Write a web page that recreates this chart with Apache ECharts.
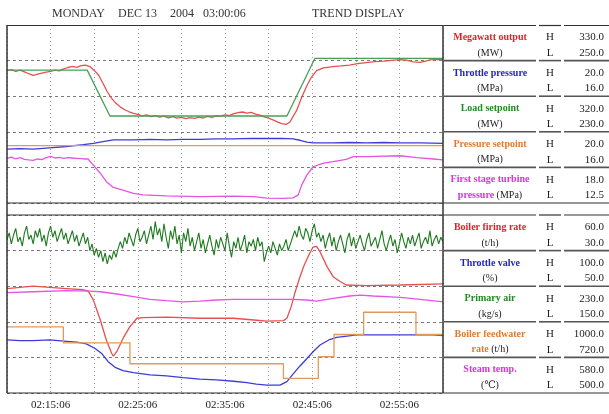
<!DOCTYPE html>
<html><head><meta charset="utf-8">
<script src="https://cdn.jsdelivr.net/npm/echarts@6/dist/echarts.min.js"></script>
<style>html,body{margin:0;padding:0;background:#fff}#c{width:609px;height:414px}</style>
</head><body><div id="c"></div>
<script>
// ---------- axis / labels ----------
const xMin = 0, xMax = 50, xStep = 5;            // minutes after 02:10:06
const timeLabels = ['02:15:06', '02:25:06', '02:35:06', '02:45:06', '02:55:06'];
const timeLabelMinutes = [5, 15, 25, 35, 45];
const titleParts = ['MONDAY', 'DEC 13', '2004', '03:00:06', 'TREND DISPLAY'];

// ---------- upper panel ----------
const upperNames = ['Megawatt output', 'Throttle pressure', 'Load setpoint', 'Pressure setpoint', 'First stage turbine'];
const upperUnitColored = ['', '', '', '', 'pressure '];
const upperUnits = ['(MW)', '(MPa)', '(MW)', '(MPa)', '(MPa)'];
const upperHigh = [330, 20, 320, 20, 18];
const upperLow = [250, 16, 230, 16, 12.5];

const megawattOutput = [[0,309.5],[0.5,309.9],[1,309.2],[1.5,309.7],[2,308.9],[2.5,308.1],[3,307.4],[3.5,307.9],[4,308.4],[4.5,308.8],[5,309.2],[5.5,309.7],[6,309.4],[6.5,310.3],[7,310.9],[7.5,311.4],[8,311.0],[8.5,311.7],[9,312.0],[9.5,311.3],[10,309.6],[10.5,307.5],[11,303.8],[11.5,300.0],[12,297.0],[12.5,294.8],[13,293.1],[13.5,291.9],[14,291.0],[14.5,290.3],[15,289.8],[15.5,289.2],[16,289.6],[16.5,288.8],[17,289.3],[17.5,288.6],[18,289.0],[18.5,288.3],[19,288.8],[19.5,288.1],[20,288.5],[20.5,287.9],[21,288.4],[21.5,288.0],[22,288.6],[22.5,288.2],[23,288.9],[23.5,288.5],[24,289.2],[24.5,289.0],[25,289.6],[25.5,289.3],[26,290.2],[26.5,290.6],[27,290.9],[27.5,290.4],[28,290.7],[28.5,289.9],[29,289.5],[29.5,288.7],[30,288.1],[30.5,287.4],[31,286.5],[31.5,285.7],[32,285.3],[32.45,286.4],[33.2,291.5],[33.8,297.5],[34.4,302.8],[34.9,306.5],[35.5,309.5],[36.3,310.7],[37.4,311.3],[38.3,311.6],[39.3,312.0],[40.2,312.6],[41.2,313.1],[42.2,313.5],[43.2,313.8],[44.1,314.1],[45.1,314.4],[45.8,314.2],[46.6,313.4],[47.4,313.2],[48,313.8],[48.5,314.3],[49.2,314.4],[50,314.5]];
const throttlePressure = [[0,17.21],[1.5,17.22],[3,17.21],[4.9,17.24],[6.8,17.27],[8.75,17.31],[9.9,17.34],[11,17.38],[12.2,17.42],[14.5,17.42],[16.4,17.43],[18.3,17.42],[20.2,17.43],[22.1,17.43],[24,17.44],[26,17.44],[28,17.45],[29.8,17.45],[31.5,17.45],[32.8,17.44],[33.6,17.41],[34.4,17.37],[35.1,17.35],[37.4,17.35],[39.3,17.36],[41.2,17.35],[43.2,17.36],[45.1,17.35],[47.5,17.35],[50,17.34]];
const loadSetpoint = [[0,297.2],[9.2,297.2],[11.8,274.0],[32.1,274.0],[35.3,303.1],[50,303.1]];
const pressureSetpoint = [[0,17.29],[10,17.29],[20,17.29],[30,17.29],[40,17.29],[50,17.29]];
const firstStagePressure = [[0,13.88],[0.5,13.92],[1,13.86],[1.5,13.90],[2,13.85],[2.5,13.83],[3,13.82],[3.5,13.86],[4,13.84],[4.5,13.90],[5,13.94],[5.5,13.89],[6,13.91],[6.5,13.88],[7,13.90],[7.5,13.89],[8,13.88],[8.5,13.87],[9,13.86],[9.3,13.86],[9.9,13.67],[10.7,13.42],[11.4,13.16],[12.2,12.98],[13.0,12.92],[14.5,12.80],[15.6,12.75],[18.3,12.72],[22.1,12.70],[26.0,12.71],[28.3,12.70],[29.8,12.65],[31.7,12.64],[32.8,12.66],[33.4,12.75],[33.8,13.06],[34.4,13.37],[35.1,13.62],[36.3,13.73],[37.4,13.78],[38.9,13.85],[39.7,13.93],[41.2,13.93],[45.1,13.96],[47.0,13.90],[48.9,13.86],[50,13.83]];

// ---------- lower panel ----------
const lowerNames = ['Boiler firing rate', 'Throttle valve', 'Primary air', 'Boiler feedwater', 'Steam temp.'];
const lowerUnitColored = ['', '', '', 'rate ', ''];
const lowerUnits = ['(t/h)', '(%)', '(kg/s)', '(t/h)', '(\u2103)'];
const lowerHigh = [60, 100, 230, 1000, 580];
const lowerLow = [30, 50, 150, 720, 500];

const boilerFiringRate = [[0,47.6],[1.5,47.8],[3,48.0],[4.9,47.8],[6.8,47.6],[8.75,47.4],[9.3,47.2],[9.9,45.7],[10.7,42.3],[11.4,38.9],[12.0,36.7],[12.2,36.2],[12.6,37.0],[13.3,39.2],[14.1,41.2],[14.9,42.6],[15.6,42.7],[18.3,42.8],[22.1,42.6],[26.0,42.6],[28.3,42.3],[29.8,42.1],[31.7,42.2],[32.1,42.6],[32.6,44.6],[33.0,46.8],[33.6,49.6],[34.1,51.6],[34.7,53.5],[35.1,54.6],[35.5,54.7],[35.9,53.8],[36.7,51.3],[37.4,49.6],[38.2,48.8],[38.9,48.2],[41.2,48.1],[45.1,48.2],[50,48.4]];
const throttleValve = [[0,64.9],[1.5,64.7],[3,64.7],[4.9,64.9],[6.5,64.6],[8,64.3],[9.1,63.8],[10.1,62.5],[10.9,61.0],[11.6,58.8],[12.4,57.2],[13.3,56.3],[14.5,55.7],[16.4,55.1],[18.3,54.8],[20.2,54.3],[22.1,53.9],[24,53.7],[26,53.3],[27.5,52.9],[28.6,52.5],[29.8,52.2],[31.3,52.2],[32.1,53.2],[32.8,55.3],[33.6,57.6],[34.4,59.7],[35.1,61.6],[35.9,63.5],[36.9,64.9],[37.8,65.6],[39,66.0],[40.1,66.3],[41.2,66.3],[45.1,66.3],[48.9,66.3],[50,66.1]];
const primaryAirStep = 0.25;
const primaryAir = [219,222,217,221,224,218,220,216,222,225,219,221,217,223,220,224,218,221,216,222,225,220,223,218,221,224,219,222,217,220,223,218,221,216,219,222,217,220,214,
217,212,215,
211,214,209,213,208,212,210,214,211,215,
218,215,220,217,222,219,216,221,224,218,220,223,217,221,225,219,
227,221,224,218,226,220,215,223,219,225,217,221,213,222,218,224,
216,220,214,218,222,215,219,213,217,221,216,212,219,215,220,217,214,222,216,211,218,215,220,214,217,221,213,218,216,219,214,220,216,218,
209,213,
216,213,218,215,212,217,214,216,219,214,217,220,
223,220,225,221,219,224,222,218,223,226,220,222,
218,221,215,219,222,216,220,214,218,221,217,213,219,222,216,220,215,218,221,217,214,219,222,216,218,220,215,219,223,217,214,218,221,216,219,213,217,222,218,215,220,217,221,216,219,222,215,218,220,217,223,216,219,221,217,220,218];
const feedwaterRate = [[0,824],[6.46,799],[14.1,766],[31.7,743],[35.7,777],[37.5,812],[40.9,847],[46.9,812],[50,812]];
const steamTemp = [[0,545.1],[3,545.5],[6.8,546.0],[9.5,545.8],[10.7,545.5],[12.6,544.5],[14.5,543.3],[16.4,542.1],[18.3,541.5],[20.2,541.0],[22.1,541.3],[24,541.8],[26,542.1],[29.8,542.1],[32.8,542.1],[34.4,541.8],[35.5,541.3],[37.4,542.5],[39.3,543.6],[40.5,544.0],[42,543.6],[45.1,543.0],[47.4,542.1],[50,541.0]];

// ---------- styling ----------
const upperLineColors = ['#e6504f', '#3c3cd6', '#48a058', '#e29a5a', '#e455e4'];
const upperTextColors = ['#e4202a', '#2424c4', '#228a22', '#e07a30', '#e030e0'];
const lowerLineColors = ['#e6504f', '#3c3cd6', '#1e7a1e', '#e29a5a', '#e455e4'];
const lowerTextColors = ['#e4202a', '#2424c4', '#228a22', '#e07a30', '#e030e0'];

const G = { left: 7, width: 436, h: 178, top0: 25, top1: 215, tableR: 609 };
const rowH = G.h / 5;
const serif = "'Liberation Serif', 'DejaVu Serif', serif";

const upperData = [megawattOutput, throttlePressure, loadSetpoint, pressureSetpoint, firstStagePressure];
const lowerData = [boilerFiringRate, throttleValve, primaryAir.map((v, i) => [i * primaryAirStep, v]), feedwaterRate, steamTemp];

function gridAxis(g) {
  return { type: 'value', gridIndex: g, min: 0, max: 5, interval: 1,
    axisLabel: { show: false }, axisLine: { show: false }, axisTick: { show: false },
    splitLine: { show: true, lineStyle: { type: [3, 3], color: '#7a7a7a', width: 1 } } };
}
const yAxis = [gridAxis(0)];
upperHigh.forEach((h, i) => yAxis.push({ type: 'value', gridIndex: 0, min: upperLow[i], max: h, show: false }));
yAxis.push(gridAxis(1));
lowerHigh.forEach((h, i) => yAxis.push({ type: 'value', gridIndex: 1, min: lowerLow[i], max: h, show: false }));

function xAx(g, labels) {
  return { type: 'value', gridIndex: g, min: xMin, max: xMax, interval: xStep,
    axisLine: { show: false }, axisTick: { show: false },
    axisLabel: labels ? { show: true, margin: 7, color: '#222', fontFamily: serif, fontSize: 11,
      formatter: v => { const i = timeLabelMinutes.indexOf(v); return i >= 0 ? timeLabels[i] : ''; } } : { show: false },
    splitLine: { show: true, lineStyle: { type: [1, 3], color: '#a0a0a0', width: 1 } } };
}

const series = [];
upperData.forEach((d, i) => series.push({ type: 'line', xAxisIndex: 0, yAxisIndex: 1 + i, data: d, showSymbol: false, symbol: 'none',
  lineStyle: { color: upperLineColors[i], width: 1.3 }, z: 3 }));
lowerData.forEach((d, i) => series.push({ type: 'line', xAxisIndex: 1, yAxisIndex: 7 + i, data: d, showSymbol: false, symbol: 'none',
  step: i === 3 ? 'end' : false,
  lineStyle: { color: lowerLineColors[i], width: i === 2 ? 1.1 : 1.3 }, z: 3 }));

// ---------- frame, title, table ----------
const graphic = [];
function line(x1, y1, x2, y2, w, c) {
  graphic.push({ type: 'line', z: 50, silent: true, shape: { x1, y1, x2, y2 }, style: { stroke: c || '#333', lineWidth: w || 1 } });
}
function text(x, y, t, opt) {
  graphic.push({ type: 'text', z: 60, silent: true, x, y, style: Object.assign({ text: t, fill: '#222',
    font: '11px ' + serif, textAlign: 'left', textVerticalAlign: 'middle' }, opt || {}) });
}
const titleX = [52, 118, 170, 203, 312];
titleParts.forEach((t, i) => text(titleX[i], 14, t, { font: '12px ' + serif, fill: '#333' }));

const bottom = G.top1 + G.h;
const tableGaps = [[444, 536], [539, 561], [564, 609]];
// plot-frame horizontal lines
[G.top0 + 0.5, G.top1].forEach(y => {
  line(G.left, y, G.left + G.width, y, 1.2, '#333');
  tableGaps.forEach(s => line(s[0], y, s[1], y, 1.2, '#333'));
});
[G.top0 + G.h, bottom].forEach(y => line(G.left, y, G.tableR, y, 1.2, '#333'));
line(G.left, G.top0, G.left, bottom, 1.5, '#333');
line(G.left + G.width, G.top0, G.left + G.width, bottom, 1.5, '#333');

function table(top, names, colored, units, hi, lo, colors) {
  for (let k = 0; k < 5; k++) {
    const rt = top + rowH * k;
    if (k > 0) {
      tableGaps.forEach(s => line(s[0], rt, s[1], rt, 1.6, '#555'));
    }
    text(490, rt + 12.5, names[k], { textAlign: 'center', font: 'bold 10px ' + serif, fill: colors[k] });
    graphic.push({ type: 'text', z: 60, silent: true, x: 490, y: rt + 28, style: {
      text: (colored[k] ? '{c|' + colored[k] + '}' : '') + '{k|' + units[k] + '}',
      textAlign: 'center', textVerticalAlign: 'middle',
      rich: { c: { fill: colors[k], font: 'bold 10px ' + serif }, k: { fill: '#222', font: '10px ' + serif } } } });
    text(550, rt + 12.5, 'H', { textAlign: 'center' });
    text(550, rt + 28, 'L', { textAlign: 'center' });
    text(604, rt + 12.5, hi[k].toFixed(1), { textAlign: 'right' });
    text(604, rt + 28, lo[k].toFixed(1), { textAlign: 'right' });
  }
}
table(G.top0, upperNames, upperUnitColored, upperUnits, upperHigh, upperLow, upperTextColors);
table(G.top1, lowerNames, lowerUnitColored, lowerUnits, lowerHigh, lowerLow, lowerTextColors);

const chart = echarts.init(document.getElementById('c'), null, { renderer: 'canvas' });
chart.setOption({
  animation: false,
  backgroundColor: '#fff',
  grid: [
    { left: G.left, top: G.top0, width: G.width, height: G.h, show: false },
    { left: G.left, top: G.top1, width: G.width, height: G.h, show: false }
  ],
  xAxis: [xAx(0, false), xAx(1, true)],
  yAxis,
  series,
  graphic
});
</script></body></html>
